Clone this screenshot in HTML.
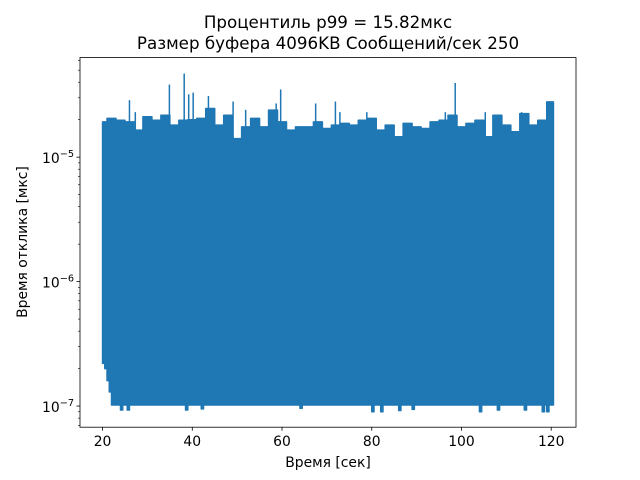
<!DOCTYPE html>
<html><head><meta charset="utf-8"><style>
body{margin:0;background:#fff}
svg{display:block;font-family:"DejaVu Sans","Liberation Sans",sans-serif}
</style></head><body>
<svg id="chart" width="640" height="480" viewBox="0 0 640 480">
<rect width="640" height="480" fill="#fff"/>
<text x="328" y="28" font-size="16.7" text-anchor="middle">Процентиль p99 = 15.82мкс</text>
<text x="328" y="49" font-size="16.7" text-anchor="middle">Размер буфера 4096KB Сообщений/сек 250</text>
<g id="plot"></g>
<g id="axes"></g>
<text x="328" y="467" font-size="13.9" text-anchor="middle">Время [сек]</text>
<text transform="translate(27,242) rotate(-90)" font-size="13.9" text-anchor="middle">Время отклика [мкс]</text>
</svg>
<script>
const xTicks=[20,40,60,80,100,120];
const yTickExps=[-7,-6,-5];
const startT=20, endT=120.5;
const upperLevels=[1.92,2.05,1.98,1.92,1.65,2.11,1.98,2.17,1.81,1.98,2.0,2.05,2.46,1.81,2.17,1.41,1.75,2.05,1.75,2.39,1.92,1.65,1.75,1.75,1.92,1.70,1.81,1.87,1.81,1.98,2.05,1.65,1.81,1.46,1.87,1.75,1.70,1.92,1.98,2.17,1.75,1.87,1.98,1.46,2.17,1.81,1.60,2.24,1.81,1.98,2.78];
const baseLower=1.02e-7;
const spikeTimes=[26,27.3,34.9,38.2,39.2,40.2,43.6,49.1,51.9,58.7,59.7,67.5,71.9,72.9,78.9,96.4,98.6,105.3,113.4,119.8];
const spikeValues=[2.87e-5,2.3e-5,3.83e-5,4.7e-5,3.2e-5,3.3e-5,3.1e-5,2.8e-5,2.4e-5,2.7e-5,3.5e-5,2.7e-5,2.8e-5,2.3e-5,2.3e-5,2.3e-5,3.95e-5,2.3e-5,2.3e-5,2.8e-5];
const dipTimes=[20,20.5,21,21.5,24,25.5,38.5,42,64,80,82,86,89,104,108,114,118,119];
const dipValues=[2.2e-7,2.0e-7,1.6e-7,1.3e-7,9.3e-8,9.3e-8,9.3e-8,9.5e-8,9.6e-8,9.0e-8,9.0e-8,9.2e-8,9.4e-8,9.0e-8,9.3e-8,9.3e-8,9.0e-8,9.0e-8];

const L=80,R=576,T=57.6,B=427.2;
const xmin=14.975,xmax=125.525;
const ylmin=-7.17,ylmax=-4.2;
const X=t=>L+(t-xmin)/(xmax-xmin)*(R-L);
const Y=v=>B-(Math.log10(v)-ylmin)/(ylmax-ylmin)*(B-T);
const NS='http://www.w3.org/2000/svg';
const plot=document.getElementById('plot'),axes=document.getElementById('axes');
function mk(tag,attrs,parent){const e=document.createElementNS(NS,tag);for(const k in attrs)e.setAttribute(k,attrs[k]);parent.appendChild(e);return e;}

function lowerAt(t){for(let i=0;i<dipTimes.length;i++){if(Math.abs(dipTimes[i]-t)<0.26)return dipValues[i];}return baseLower;}
function upperAt(t){const i=Math.min(upperLevels.length-1,Math.max(0,Math.round((t-startT)/2)));return upperLevels[i]*1e-5;}

// filled envelope: top as step function, bottom with dips
let d='';
for(let t=startT;t<=endT+1e-9;t+=0.5){
  const u=Y(upperAt(t)).toFixed(2);
  d+=(d?'L':'M')+X(t).toFixed(2)+','+u+'L'+X(Math.min(t+0.5,endT)).toFixed(2)+','+u;
}
const bottom=[];
for(let t=startT;t<=endT+1e-9;t+=0.5){
  const l=Y(lowerAt(t)).toFixed(2);
  bottom.push('L'+X(Math.min(t+0.5,endT)).toFixed(2)+','+l+'L'+X(t).toFixed(2)+','+l);
}
d+=bottom.reverse().join('')+'Z';
const band=mk('path',{d:d,fill:'#1f77b4',stroke:'#1f77b4','stroke-width':1.5,'stroke-linejoin':'round'},plot);


for(let i=0;i<spikeTimes.length;i++){
  const s=mk('line',{x1:X(spikeTimes[i]),x2:X(spikeTimes[i]),y1:Y(upperAt(spikeTimes[i])),y2:Y(spikeValues[i]),stroke:'#1f77b4','stroke-width':1.5},plot);
  
  
}

const fr=mk('rect',{x:L,y:T,width:R-L,height:B-T,fill:'none',stroke:'#000','stroke-width':0.8},axes);


xTicks.forEach(t=>{
  mk('line',{x1:X(t),x2:X(t),y1:B,y2:B+3.5,stroke:'#000','stroke-width':0.8},axes);
  const lb=mk('text',{x:X(t),y:B+19,'font-size':13.9,'text-anchor':'middle'},axes);
  lb.textContent=t;
  
  
});
for(let e=-8;e<=-4;e++){for(let m=2;m<=9;m++){const v=m*Math.pow(10,e);const yy=Y(v);if(yy>=T&&yy<=B)mk('line',{x1:L-2,x2:L,y1:yy,y2:yy,stroke:'#000','stroke-width':0.6},axes);}}
yTickExps.forEach(e=>{
  const yy=Y(Math.pow(10,e));
  mk('line',{x1:L-3.5,x2:L,y1:yy,y2:yy,stroke:'#000','stroke-width':0.8},axes);
  const lb=mk('text',{x:L-6,y:yy+6,'font-size':13.9,'text-anchor':'end'},axes);
  
  
  const a=document.createElementNS(NS,'tspan');a.textContent='10';lb.appendChild(a);
  const b=document.createElementNS(NS,'tspan');b.setAttribute('dy','-6');b.setAttribute('font-size','9.7');b.textContent='−'+(-e);lb.appendChild(b);
});
</script>
</body></html>
